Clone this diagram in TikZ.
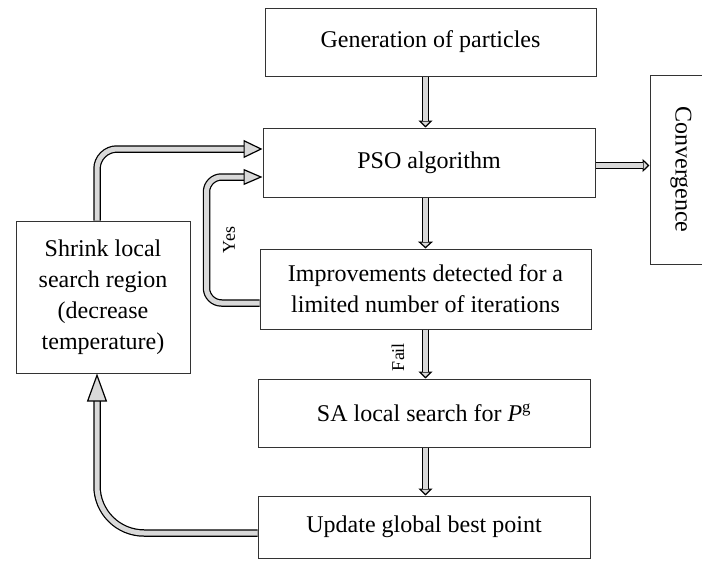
\documentclass[tikz,border=0pt]{standalone}
\usepackage{fontspec}
\setmainfont{Liberation Serif}
\usetikzlibrary{arrows.meta,calc}
\definecolor{flowgray}{RGB}{217,217,217}
\definecolor{boxline}{RGB}{51,51,51}
\tikzset{
	stagebox/.style={draw=boxline, line width=1pt, inner sep=0pt, align=center, font=\fontsize{24}{31}\selectfont},
	flowlabel/.style={inner sep=0pt, font=\fontsize{18}{20}\selectfont},
	flowedge/.style 2 args={draw=black, line width=7.5pt, -{Triangle[length=#1, width=#2, fill=flowgray, line width=1.2pt]}},
	flowcore/.style={draw=flowgray, line width=5pt, shorten >=#1}
}
\begin{document}
\begin{tikzpicture}[x=1pt,y=1pt,yscale=-1,xscale=1]
	\useasboundingbox (0,0) rectangle (702,560);
	\clip (0,0) rectangle (702,560);
	
	% Text Node
	\node[stagebox, minimum width=331pt, minimum height=68pt] (gen) at (430.5,42) {Generation of particles};
	% Text Node
	\node[stagebox, minimum width=332pt, minimum height=69pt] (pso) at (429,162.5) {PSO algorithm};
	% Text Node
	\node[stagebox, minimum width=331pt, minimum height=80pt] (impr) at (425.5,289) {Improvements detected for a\\limited number of iterations};
	% Text Node
	\node[stagebox, minimum width=332pt, minimum height=68pt] (sa) at (424,413) {SA local search for \textit{P}\textsuperscript{g}};
	% Text Node
	\node[stagebox, minimum width=332pt, minimum height=62pt] (upd) at (424,527) {Update global best point};
	% Text Node
	\node[stagebox, minimum width=174pt, minimum height=152pt] (shrink) at (103,297) {Shrink local\\search region\\(decrease\\temperature)};
	% Text Node
	\node[stagebox, rotate=-90, minimum width=189pt, minimum height=62pt] (conv) at (681,169.5) {Convergence};
	% Text Node
	\node[flowlabel, rotate=90] (yes) at (229,240) {Yes};
	% Text Node
	\node[flowlabel, rotate=90] (fail) at (398,357) {Fail};
	
	% Connection
	\draw[flowedge={7pt}{14pt}] (gen.south -| impr) -- (pso.north -| impr);
	\draw[flowcore=7pt] (gen.south -| impr) -- (pso.north -| impr);
	% Connection
	\draw[flowedge={7pt}{15pt}] (pso.south -| impr) -- (impr.north);
	\draw[flowcore=7pt] (pso.south -| impr) -- (impr.north);
	% Connection
	\draw[flowedge={7pt}{14pt}] (impr.south) -- (sa.north -| impr);
	\draw[flowcore=7pt] (impr.south) -- (sa.north -| impr);
	% Connection
	\draw[flowedge={7pt}{14pt}] (sa.south -| impr) -- (upd.north -| impr);
	\draw[flowcore=7pt] (sa.south -| impr) -- (upd.north -| impr);
	% Connection
	\draw[flowedge={7pt}{13pt}] ($(pso.east)+(0,3)$) -- ($(pso.east -| conv.south)+(0,3)$);
	\draw[flowcore=7pt] ($(pso.east)+(0,3)$) -- ($(pso.east -| conv.south)+(0,3)$);
	% Connection
	\draw[flowedge={19pt}{18pt}, rounded corners=20pt] ($(shrink.north)+(-6,0)$) |- ($(pso.west)+(0,-13.5)$);
	\draw[flowcore=19pt, rounded corners=20pt] ($(shrink.north)+(-6,0)$) |- ($(pso.west)+(0,-13.5)$);
	% Connection
	\draw[flowedge={19pt}{16pt}, rounded corners=15pt] ($(impr.west)+(0,14)$) -- ++(-53,0) |- ($(pso.west)+(0,14.5)$);
	\draw[flowcore=19pt, rounded corners=15pt] ($(impr.west)+(0,14)$) -- ++(-53,0) |- ($(pso.west)+(0,14.5)$);
	% Connection
	\draw[flowedge={28pt}{20pt}, rounded corners=47pt] ($(upd.west)+(0,6)$) -| ($(shrink.south)+(-6,0)$);
	\draw[flowcore=28pt, rounded corners=47pt] ($(upd.west)+(0,6)$) -| ($(shrink.south)+(-6,0)$);
	
\end{tikzpicture}
\end{document}
